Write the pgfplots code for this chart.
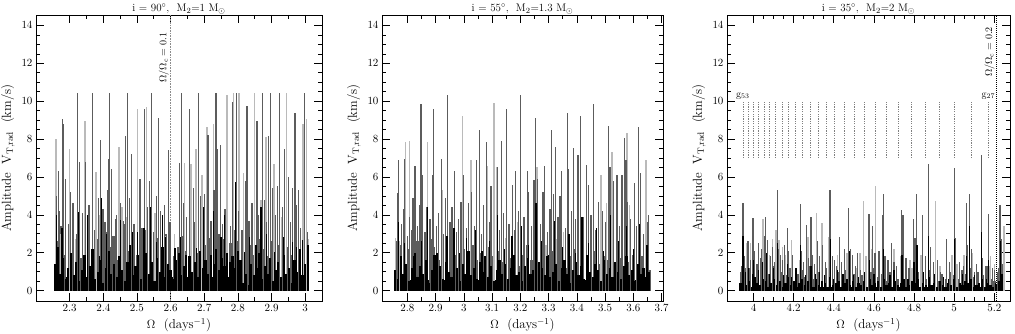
\documentclass[border=0pt]{standalone}
\usepackage{pgfplots}
\pgfplotsset{compat=1.18}
\definecolor{dg}{gray}{0.36}
\definecolor{lg}{gray}{0.73}

\pgfplotsset{
  panel/.style={
    scale only axis, height=286pt, anchor=south west,
    ymin=-0.55, ymax=14.55, ytick={0,2,4,6,8,10,12,14}, minor y tick num=3,
    tick align=inside, major tick length=8pt, minor tick length=4pt,
    every tick/.style={black, line width=0.6pt},
    axis line style={line width=0.8pt},
    tick label style={font=\fontsize{11}{13}\selectfont},
    label style={font=\fontsize{13}{15}\selectfont},
    every axis title/.style={at={(0.5,1)}, anchor=base, yshift=3.5pt, font=\fontsize{11}{13}\selectfont},
    xlabel={$\Omega$\ \ (days$^{-1}$)},
    ylabel={Amplitude\ \ V$_{\mathrm{T,rad}}$\ \ (km/s)},
    clip mode=individual,
  },
  spk/.style={ycomb, mark=none, line width=1.2pt},
}

\begin{document}
\begin{tikzpicture}
\useasboundingbox (0,0) rectangle (1015pt,334pt);

% ---------------- panel 1 ----------------
\begin{axis}[panel, at={(36pt,33pt)}, width=286pt,
  xmin=2.2, xmax=3.05, xtick={2.3,2.4,2.5,2.6,2.7,2.8,2.9,3}, minor x tick num=1,
  title={i = 90$^\circ$,\ \ M$_2$=1 M$_\odot$}]
\addplot[black!45, line width=1.6pt, dash pattern=on 0.8pt off 0.8pt] coordinates {(2.6,-0.55) (2.6,14.55)};
\addplot[fill=black, draw=none] coordinates {(2.255,0.7) (3.01,0.7)} \closedcycle;
% dark grey low band
\addplot[spk, dg, line width=2.4pt] table {
2.262 2.6
2.274 3.4
2.286 1.9
2.298 2.8
2.310 2.2
2.322 3.0
2.334 1.7
2.346 2.5
2.358 3.3
2.370 2.0
2.382 2.7
2.394 1.8
2.406 3.1
2.418 2.3
2.430 2.9
2.442 1.6
2.454 2.6
2.466 3.5
2.478 2.1
2.490 2.9
2.502 1.9
2.514 2.7
2.526 3.2
2.538 2.4
2.550 1.7
2.562 2.8
2.574 2.2
2.586 3.0
2.598 2.5
2.610 1.8
2.622 2.3
2.634 2.9
2.646 2.1
2.658 3.3
2.670 2.6
2.682 2.0
2.694 3.1
2.706 2.4
2.718 2.8
2.730 2.2
2.742 3.0
2.754 2.7
2.766 2.9
2.778 2.5
2.790 3.2
2.802 2.6
2.814 2.8
2.826 1.5
2.838 2.4
2.850 1.9
2.862 2.7
2.874 2.2
2.886 1.8
2.898 2.6
2.910 2.0
2.922 2.4
2.934 1.7
2.946 2.3
2.958 1.9
2.970 2.5
2.982 2.1
2.994 2.8
3.006 3.1
};
% light grey peaks
\addplot[spk, lg, line width=1.5pt] table {
2.259 7.98
2.273 3.0
2.299 7.47
2.318 2.7
2.345 8.96
2.378 6.27
2.388 4.0
2.447 7.59
2.456 4.4
2.470 3.9
2.501 9.61
2.529 9.68
2.553 4.1
2.584 2.9
2.612 3.0
2.642 6.71
2.661 6.7
2.676 7.47
2.693 6.1
2.708 8.64
2.718 3.7
2.728 8.8
2.768 10.31
2.787 10.45
2.803 10.45
2.817 6.2
2.849 10.45
2.868 4.8
2.884 8.1
2.908 6.7
2.930 3.9
2.945 10.45
2.993 8.8
3.004 9.08
3.008 2.7
};
% dark grey peaks
\addplot[spk, dg] table {
2.262 5.0
2.266 6.3
2.270 4.2
2.278 9.08
2.281 8.77
2.288 5.9
2.296 3.5
2.303 5.2
2.310 4.6
2.323 10.45
2.329 6.8
2.338 4.1
2.348 6.8
2.356 4.5
2.360 4.5
2.367 10.45
2.374 3.2
2.385 4.9
2.392 7.94
2.399 4.3
2.405 3.6
2.412 5.3
2.415 6.97
2.418 10.45
2.425 6.4
2.436 3.8
2.440 4.0
2.452 4.6
2.460 3.7
2.466 8.17
2.471 10.45
2.478 4.9
2.484 7.2
2.491 3.5
2.509 5.9
2.515 3.3
2.522 9.61
2.532 4.4
2.537 5.8
2.544 10.45
2.550 3.1
2.557 5.0
2.563 9.13
2.569 4.2
2.576 3.4
2.582 4.5
2.588 3.0
2.593 7.41
2.598 3.6
2.626 6.71
2.632 10.45
2.639 4.6
2.647 3.9
2.656 9.61
2.667 5.4
2.672 3.6
2.683 10.45
2.690 5.0
2.700 5.1
2.711 8.2
2.720 3.7
2.729 5.3
2.735 10.45
2.740 7.5
2.748 7.7
2.755 3.5
2.762 4.3
2.779 3.4
2.785 9.96
2.795 10.45
2.801 4.2
2.812 3.2
2.822 5.8
2.827 9.77
2.833 3.7
2.842 4.6
2.857 8.96
2.862 4.0
2.872 10.45
2.879 4.8
2.885 3.6
2.891 8.17
2.897 10.45
2.903 5.4
2.912 4.0
2.917 5.5
2.923 10.45
2.932 4.4
2.938 7.47
2.950 6.0
2.956 3.6
2.962 5.4
2.970 9.35
2.974 4.5
2.980 5.3
2.986 3.3
2.999 10.45
3.006 3.1
};
% black peaks
\addplot[spk, black] table {
2.260 3.99
2.277 3.29
2.326 4.16
2.353 3.99
2.388 1.8
2.395 4.9
2.410 3.0
2.450 3.73
2.487 3.1
2.501 3.1
2.521 3.29
2.541 4.4
2.558 2.59
2.575 3.99
2.586 2.85
2.613 2.23
2.630 2.85
2.646 1.88
2.676 2.23
2.699 4.4
2.728 4.2
2.750 2.85
2.760 3.99
2.792 5.75
2.820 2.06
2.834 2.85
2.854 2.4
2.869 4.4
2.884 3.0
2.909 2.06
2.936 2.85
2.963 2.59
2.975 2.3
2.993 2.67
};
% black low band
\addplot[spk, black, line width=2.2pt] table {
2.256 1.4
2.264 2.3
2.272 0.9
2.280 1.7
2.288 0.6
2.296 1.2
2.304 2.0
2.312 0.8
2.320 1.5
2.328 0.5
2.336 1.1
2.344 1.9
2.352 0.7
2.360 1.3
2.368 2.2
2.376 0.6
2.384 1.0
2.392 1.6
2.400 0.4
2.408 1.2
2.416 2.1
2.424 0.9
2.432 1.4
2.440 0.7
2.448 1.8
2.456 1.1
2.464 0.5
2.472 1.5
2.480 2.4
2.488 0.8
2.496 1.3
2.504 1.9
2.512 0.6
2.520 1.2
2.528 2.0
2.536 0.9
2.544 1.5
2.552 0.5
2.560 1.7
2.568 1.0
2.576 2.3
2.584 0.7
2.592 1.4
2.600 1.1
2.608 0.6
2.616 1.6
2.624 2.0
2.632 0.8
2.640 1.3
2.648 0.5
2.656 1.8
2.664 1.0
2.672 1.5
2.680 0.7
2.688 2.1
2.696 1.2
2.704 1.6
2.712 0.9
2.720 1.9
2.728 1.4
2.736 2.2
2.744 1.1
2.752 1.7
2.760 1.3
2.768 2.0
2.776 1.5
2.784 1.8
2.792 1.2
2.800 2.1
2.808 1.6
2.816 0.4
2.824 0.9
2.832 0.3
2.840 1.4
2.848 0.8
2.856 1.2
2.864 2.0
2.872 0.6
2.880 1.3
2.888 0.9
2.896 1.7
2.904 0.5
2.912 1.1
2.920 1.5
2.928 0.7
2.936 1.9
2.944 0.9
2.952 1.2
2.960 0.4
2.968 1.6
2.976 1.0
2.984 2.2
2.992 0.8
3.000 1.4
3.008 2.4
};
\node[rotate=90, anchor=south east, inner sep=1.5pt, font=\fontsize{10}{12}\selectfont]
  at (axis cs:2.6,13.7) {$\Omega/\Omega_{\mathrm c}=0.1$};
\end{axis}

% ---------------- panel 2 ----------------
\begin{axis}[panel, at={(382pt,33pt)}, width=281pt,
  xmin=2.71, xmax=3.705, xtick={2.8,2.9,3,3.1,3.2,3.3,3.4,3.5,3.6,3.7}, minor x tick num=1,
  title={i = 55$^\circ$,\ \ M$_2$=1.3 M$_\odot$}]
\addplot[fill=black, draw=none] coordinates {(2.755,0.55) (3.66,0.55)} \closedcycle;
\addplot[spk, dg, line width=2.4pt] table {
2.760 1.9
2.775 2.4
2.790 1.5
2.805 2.2
2.820 1.7
2.835 2.6
2.850 1.4
2.865 2.0
2.880 1.8
2.895 2.3
2.910 1.6
2.925 2.1
2.940 1.3
2.955 2.5
2.970 1.9
2.985 1.5
3.000 2.2
3.015 1.7
3.030 2.4
3.045 1.6
3.060 2.0
3.075 1.4
3.090 2.3
3.105 1.8
3.120 2.1
3.135 1.5
3.150 2.6
3.165 1.7
3.180 2.2
3.195 1.3
3.210 1.9
3.225 2.4
3.240 1.6
3.255 2.0
3.270 1.4
3.285 2.3
3.300 1.7
3.315 2.1
3.330 1.5
3.345 1.9
3.360 1.2
3.375 1.8
3.390 2.2
3.405 1.5
3.420 1.9
3.435 1.3
3.450 1.7
3.465 2.1
3.480 1.4
3.495 1.8
3.510 1.6
3.525 2.0
3.540 1.3
3.555 1.7
3.570 2.2
3.585 1.5
3.600 1.9
3.615 1.2
3.630 1.8
3.645 1.5
3.660 1.1
};
\addplot[spk, lg, line width=1.5pt] table {
2.758 2.8
2.772 2.6
2.793 7.82
2.807 7.9
2.849 7.85
2.871 7.85
2.888 3.2
2.925 5.3
2.942 3.9
2.995 9.2
3.010 3.0
3.026 6.9
3.083 6.6
3.106 9.9
3.115 6.5
3.148 2.8
3.190 3.6
3.259 6.55
3.290 2.4
3.330 2.7
3.352 3.1
3.402 2.7
3.485 6.1
3.505 4.6
3.524 7.3
3.560 2.2
3.577 8.3
3.587 4.5
3.645 6.9
};
\addplot[spk, dg] table {
2.762 2.6
2.766 5.13
2.768 6.9
2.778 3.5
2.786 4.3
2.790 6.95
2.799 2.9
2.806 3.9
2.816 3.2
2.820 4.9
2.827 6.6
2.835 3.4
2.843 4.5
2.848 9.84
2.852 6.1
2.862 3.1
2.868 4.4
2.880 3.8
2.886 2.7
2.890 6.1
2.893 9.61
2.902 3.4
2.910 4.1
2.920 6.95
2.928 3.0
2.936 4.9
2.943 10.31
2.951 3.6
2.958 4.4
2.968 6.3
2.975 3.1
2.982 3.8
2.990 4.7
2.998 6.1
3.008 3.3
3.016 4.6
3.028 5.2
3.038 3.4
3.046 6.9
3.054 8.47
3.062 3.0
3.070 4.5
3.080 7.85
3.090 3.6
3.096 5.5
3.119 6.5
3.126 3.2
3.132 7.9
3.140 4.1
3.152 9.61
3.160 3.5
3.171 5.6
3.178 3.2
3.183 6.3
3.192 4.2
3.201 10.31
3.213 3.9
3.224 6.3
3.230 5.2
3.240 3.4
3.248 5.85
3.253 9.13
3.262 5.9
3.270 3.5
3.280 5.2
3.286 6.6
3.296 3.1
3.305 4.3
3.310 8.47
3.316 5.1
3.324 7.6
3.333 3.9
3.340 5.0
3.345 6.3
3.360 3.3
3.368 9.4
3.370 6.4
3.380 4.2
3.389 7.55
3.396 3.8
3.404 7.15
3.414 9.2
3.422 3.9
3.434 6.65
3.440 5.6
3.450 4.0
3.458 9.84
3.466 3.2
3.476 4.7
3.490 4.2
3.500 3.6
3.511 8.7
3.517 6.5
3.530 5.8
3.542 6.1
3.550 3.4
3.560 6.1
3.568 8.07
3.574 6.9
3.580 4.7
3.590 3.8
3.603 5.7
3.610 3.4
3.617 8.65
3.625 6.2
3.635 3.0
3.650 3.6
3.655 4.0
};
\addplot[spk, black] table {
2.768 3.6
2.790 2.5
2.823 1.8
2.850 2.6
2.872 4.4
2.905 2.0
2.940 2.9
2.965 3.3
2.985 2.0
3.010 2.8
3.040 3.2
3.064 2.1
3.090 2.6
3.120 4.0
3.145 2.2
3.170 2.9
3.205 3.4
3.228 2.4
3.255 4.6
3.275 2.6
3.300 1.9
3.320 3.7
3.348 2.3
3.372 3.0
3.395 2.0
3.418 3.9
3.440 2.5
3.470 3.3
3.495 2.1
3.520 4.0
3.548 2.6
3.575 3.4
3.600 2.2
3.622 3.5
3.648 2.4
};
\addplot[spk, black, line width=2.2pt] table {
2.756 1.1
2.766 0.6
2.776 1.8
2.786 0.9
2.796 1.4
2.806 0.5
2.816 1.2
2.826 2.0
2.836 0.7
2.846 1.3
2.856 0.9
2.866 1.6
2.876 0.4
2.886 1.1
2.896 1.9
2.906 0.8
2.916 1.3
2.926 0.6
2.936 1.5
2.946 1.0
2.956 0.7
2.966 1.7
2.976 1.2
2.986 0.5
2.996 1.4
3.006 0.9
3.016 2.1
3.026 0.8
3.036 1.2
3.046 0.6
3.056 1.5
3.066 1.0
3.076 1.8
3.086 0.7
3.096 1.3
3.106 0.5
3.116 1.1
3.126 1.6
3.136 0.9
3.146 1.4
3.156 0.6
3.166 1.2
3.176 1.9
3.186 0.8
3.196 1.0
3.206 0.5
3.216 1.3
3.226 1.7
3.236 0.9
3.246 1.1
3.256 0.6
3.266 1.5
3.276 1.2
3.286 0.8
3.296 1.8
3.306 0.7
3.316 1.0
3.326 1.4
3.336 0.5
3.346 1.2
3.356 1.6
3.366 0.9
3.376 0.4
3.386 1.1
3.396 1.5
3.406 0.8
3.416 1.3
3.426 0.6
3.436 1.9
3.446 1.0
3.456 0.7
3.466 1.4
3.476 1.1
3.486 0.5
3.496 1.6
3.506 0.9
3.516 1.2
3.526 0.7
3.536 1.5
3.546 1.0
3.556 0.6
3.566 1.3
3.576 1.8
3.586 0.8
3.596 1.1
3.606 0.5
3.616 1.4
3.626 0.9
3.636 1.2
3.646 0.7
3.656 1.0
};
\end{axis}

% ---------------- panel 3 ----------------
\begin{axis}[panel, at={(727pt,33pt)}, width=283pt,
  xmin=3.868, xmax=5.278, xtick={4,4.2,4.4,4.6,4.8,5,5.2}, minor x tick num=3,
  title={i = 35$^\circ$,\ \ M$_2$=2 M$_\odot$}]
\addplot[black, line width=0.6pt, dash pattern=on 1pt off 1pt] coordinates {(5.21,-0.55) (5.21,14.55)};
\pgfplotsinvokeforeach{3.947,3.972,3.998,4.025,4.053,4.080,4.110,4.143,4.173,4.207,4.244,4.282,4.322,4.362,4.405,4.450,4.500,4.552,4.605,4.661,4.721,4.788,4.856,4.926,5.000,5.085,5.170}{
  \addplot[black!50, line width=0.6pt, dash pattern=on 1.2pt off 1.2pt] coordinates {(#1,7) (#1,10)};
}
\addplot[fill=black, draw=none] coordinates {(3.935,0.2) (5.245,0.2)} \closedcycle;
\addplot[spk, dg, line width=2.4pt] table {
3.940 1.0
3.960 0.6
3.980 1.2
4.000 0.8
4.020 1.4
4.040 0.7
4.060 1.1
4.080 0.9
4.100 1.3
4.120 0.6
4.140 1.0
4.160 0.8
4.180 1.2
4.200 0.5
4.220 0.9
4.240 1.1
4.260 0.7
4.280 1.3
4.300 0.6
4.320 1.0
4.340 0.8
4.360 1.2
4.380 0.9
4.400 0.5
4.420 1.0
4.440 0.7
4.460 1.1
4.480 0.6
4.500 0.9
4.520 0.5
4.540 0.8
4.560 1.0
4.580 0.6
4.600 1.2
4.620 0.7
4.640 0.9
4.660 0.5
4.680 1.0
4.700 0.8
4.720 0.6
4.740 1.1
4.760 0.5
4.780 0.9
4.800 1.2
4.820 0.7
4.840 1.0
4.860 0.6
4.880 1.1
4.900 0.8
4.920 0.5
4.940 0.9
4.960 0.6
4.980 1.0
5.000 0.8
5.020 0.6
5.040 1.1
5.060 0.9
5.080 1.2
5.100 0.7
5.120 1.0
5.140 0.8
5.160 1.3
5.180 0.6
5.200 0.5
5.220 1.0
5.240 1.3
};
\addplot[spk, lg, line width=1.5pt] table {
3.952 1.4
3.965 2.5
3.985 2.5
4.048 3.78
4.080 1.9
4.095 2.7
4.111 3.2
4.128 2.65
4.145 2.3
4.160 1.9
4.189 2.65
4.232 1.6
4.272 2.85
4.314 4.12
4.342 3.58
4.377 2.85
4.418 1.9
4.465 2.0
4.513 1.2
4.530 2.0
4.547 4.72
4.560 1.8
4.588 2.2
4.608 5.52
4.670 1.4
4.700 2.2
4.735 1.8
4.780 1.6
4.790 1.2
4.835 1.9
4.908 4.72
4.930 1.3
4.990 1.9
5.015 1.4
5.050 1.9
5.090 2.0
5.175 1.3
5.182 1.8
5.200 1.4
5.248 3.42
};
\addplot[spk, dg] table {
3.940 1.3
3.948 4.6
3.955 1.8
3.962 1.2
3.973 2.63
3.985 1.6
3.998 3.85
4.005 2.1
4.015 1.4
4.025 2.5
4.035 1.7
4.040 2.2
4.055 2.9
4.061 3.9
4.070 2.65
4.085 1.8
4.095 2.3
4.105 1.5
4.118 5.3
4.125 2.2
4.135 1.9
4.145 1.6
4.155 2.4
4.168 3.33
4.175 2.1
4.195 1.9
4.210 1.0
4.234 4.57
4.240 2.1
4.250 1.5
4.264 3.45
4.275 1.7
4.286 3.87
4.292 1.9
4.305 1.4
4.320 2.6
4.330 1.8
4.345 2.4
4.360 1.5
4.381 5.3
4.395 1.8
4.405 1.6
4.415 1.3
4.430 2.83
4.440 1.5
4.455 2.2
4.475 4.37
4.485 2.2
4.495 1.9
4.510 1.3
4.520 2.0
4.535 1.1
4.555 1.0
4.575 4.05
4.585 1.0
4.594 3.4
4.605 2.0
4.625 2.1
4.643 4.0
4.646 5.08
4.655 1.8
4.670 1.6
4.688 2.5
4.700 1.5
4.712 1.3
4.738 4.27
4.745 4.0
4.760 1.7
4.775 1.2
4.796 3.78
4.805 2.8
4.813 5.1
4.820 1.0
4.841 3.98
4.855 1.8
4.871 6.66
4.880 2.3
4.895 1.5
4.915 1.6
4.930 1.0
4.963 2.7
4.975 1.5
5.000 6.48
5.005 2.8
5.025 1.5
5.045 1.3
5.060 4.6
5.068 2.4
5.075 5.08
5.085 2.2
5.100 1.0
5.110 1.4
5.134 7.18
5.140 1.7
5.155 1.3
5.170 4.05
5.190 1.2
5.200 1.1
5.222 1.2
5.228 4.52
5.235 2.7
5.242 1.4
};
\addplot[spk, black] table {
3.948 2.9
3.960 1.0
3.975 1.2
3.995 0.9
4.000 1.6
4.025 1.1
4.045 1.5
4.063 2.0
4.080 0.9
4.100 1.2
4.118 2.5
4.150 0.8
4.170 1.4
4.190 0.7
4.212 1.2
4.236 2.4
4.260 0.8
4.286 1.3
4.310 0.9
4.330 1.0
4.352 0.8
4.383 2.7
4.400 0.6
4.420 1.1
4.446 0.9
4.477 2.1
4.500 0.8
4.525 0.7
4.555 1.0
4.577 1.6
4.600 0.9
4.648 2.2
4.680 0.8
4.700 1.1
4.740 1.9
4.770 0.6
4.800 1.5
4.815 2.4
4.845 1.0
4.873 2.9
4.900 0.9
4.945 0.7
4.970 0.6
5.002 2.7
5.040 0.9
5.062 1.8
5.078 3.4
5.100 0.8
5.136 3.1
5.160 0.6
5.172 1.6
5.205 0.4
5.230 2.6
5.238 0.9
};
\addplot[spk, black, line width=2.2pt] table {
3.935 0.4
3.949 0.6
3.963 0.3
3.977 0.5
3.991 0.2
4.005 0.7
4.019 0.4
4.033 0.3
4.047 0.6
4.061 0.5
4.075 0.2
4.089 0.4
4.103 0.6
4.117 0.3
4.131 0.5
4.145 0.2
4.159 0.4
4.173 0.7
4.187 0.3
4.201 0.5
4.215 0.2
4.229 0.4
4.243 0.6
4.257 0.3
4.271 0.5
4.285 0.4
4.299 0.2
4.313 0.6
4.327 0.3
4.341 0.5
4.355 0.4
4.369 0.2
4.383 0.7
4.397 0.3
4.411 0.4
4.425 0.5
4.439 0.2
4.453 0.4
4.467 0.6
4.481 0.3
4.495 0.5
4.509 0.2
4.523 0.4
4.537 0.3
4.551 0.5
4.565 0.2
4.579 0.6
4.593 0.3
4.607 0.4
4.621 0.5
4.635 0.2
4.649 0.6
4.663 0.3
4.677 0.4
4.691 0.2
4.705 0.5
4.719 0.3
4.733 0.4
4.747 0.6
4.761 0.2
4.775 0.3
4.789 0.5
4.803 0.4
4.817 0.6
4.831 0.2
4.845 0.4
4.859 0.3
4.873 0.7
4.887 0.3
4.901 0.4
4.915 0.2
4.929 0.5
4.943 0.3
4.957 0.2
4.971 0.4
4.985 0.3
4.999 0.6
5.013 0.2
5.027 0.4
5.041 0.3
5.055 0.5
5.069 0.4
5.083 0.6
5.097 0.2
5.111 0.3
5.125 0.4
5.139 0.6
5.153 0.2
5.167 0.4
5.181 0.3
5.195 0.2
5.209 0.3
5.223 0.5
5.237 0.6
};
\node[anchor=south, inner sep=1.5pt, font=\fontsize{10}{12}\selectfont] at (axis cs:3.947,10) {g$_{53}$};
\node[anchor=south, inner sep=1.5pt, font=\fontsize{10}{12}\selectfont] at (axis cs:5.170,10) {g$_{27}$};
\node[rotate=90, anchor=south east, inner sep=1.5pt, font=\fontsize{10}{12}\selectfont]
  at (axis cs:5.21,14.0) {$\Omega/\Omega_{\mathrm c}=0.2$};
\end{axis}
\end{tikzpicture}
\end{document}
